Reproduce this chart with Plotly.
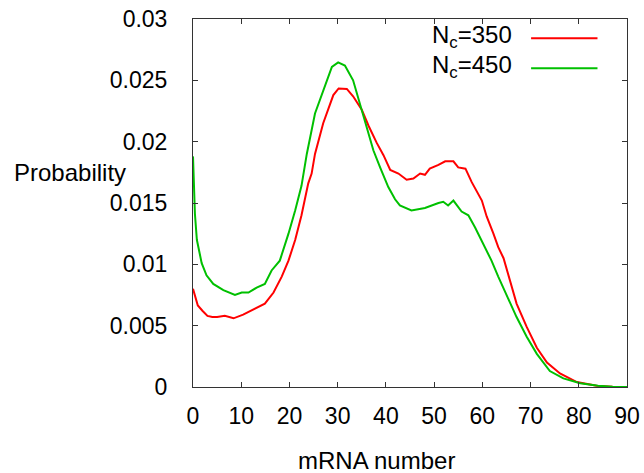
import plotly.graph_objects as go

# Nc = 350 (red)
x350 = [0, 0.5, 1, 2, 3, 4, 5, 6.6, 8.4, 10.4, 12.5, 14.9, 16.7, 18.4, 19.8, 21.2, 22.5, 23.9,
        24.6, 25.3, 27.0, 29.1, 30.2, 31.9, 33.2, 35.0, 36.4, 38.1, 39.5, 40.9, 42.6, 44.3,
        45.7, 47.1, 48.1, 49.1, 50.9, 52.3, 54.0, 55.0, 56.5, 57.8, 59.9, 60.9, 62.3, 63.3,
        64.4, 65.7, 67.1, 69.2, 71.3, 73.4, 76.1, 79.6, 83.7, 87, 90]
y350 = [0.0080, 0.0072, 0.00665, 0.0062, 0.0058, 0.0057, 0.0057, 0.0058, 0.0056, 0.0059, 0.0063,
        0.0068, 0.0077, 0.0090, 0.0103, 0.0120, 0.0140, 0.0166,
        0.0174, 0.0190, 0.0215, 0.0238, 0.02434, 0.0243, 0.0237, 0.0226, 0.0213, 0.0199, 0.0189,
        0.0177, 0.0174, 0.0169, 0.0170, 0.0174, 0.0173, 0.0178, 0.0181, 0.0184, 0.0184, 0.0179,
        0.0178, 0.0167, 0.0152, 0.0139, 0.0125, 0.0114, 0.0105, 0.0087, 0.0068, 0.0049, 0.0032,
        0.0020, 0.0011, 0.0004, 0.0001, 0.00003, 0.0]

# Nc = 450 (green)
x450 = [0, 0.4, 0.8, 1.8, 2.8, 4.2, 6.3, 8.7, 10.1, 11.5, 13.2, 14.9, 16.3, 18.0, 19.8, 21.2,
        22.5, 23.6, 25.3, 27.0, 28.8, 30.1, 31.5, 33.2, 34.6, 36.0, 37.4, 38.8, 40.5, 41.9,
        42.9, 45.3, 48.1, 50.9, 51.9, 52.9, 54.0, 55.7, 57.1, 58.5, 60.2, 61.9, 63.3, 65.1,
        67.1, 69.2, 71.3, 74.0, 76.8, 80.3, 84, 87, 90]
y450 = [0.0188, 0.0141, 0.0120, 0.0101, 0.0091, 0.0084, 0.0079, 0.0075, 0.0077, 0.0077, 0.0081,
        0.0084, 0.0095, 0.0103, 0.0125, 0.0144, 0.0164, 0.0190, 0.0223, 0.0242, 0.0261, 0.02646,
        0.0262, 0.0250, 0.0231, 0.0212, 0.0193, 0.0179, 0.0163, 0.0153, 0.0148, 0.0144, 0.0146,
        0.0150, 0.0151, 0.0148, 0.0152, 0.0143, 0.0140, 0.0130, 0.0117, 0.0103, 0.0090, 0.0075,
        0.0057, 0.0041, 0.0027, 0.0013, 0.0007, 0.0003, 0.0001, 0.00003, 0.0]

xticks = [0, 10, 20, 30, 40, 50, 60, 70, 80, 90]
yticks = [0, 0.005, 0.01, 0.015, 0.02, 0.025, 0.03]
ytick_labels = ["0", "0.005", "0.01", "0.015", "0.02", "0.025", "0.03"]

FONT = "Liberation Sans, Arial, sans-serif"

fig = go.Figure()
fig.add_trace(go.Scatter(x=x350, y=y350, mode="lines", line=dict(color="#ff0000", width=2),
                         name="N<sub>c</sub>=350", showlegend=False))
fig.add_trace(go.Scatter(x=x450, y=y450, mode="lines", line=dict(color="#00c000", width=2),
                         name="N<sub>c</sub>=450", showlegend=False))

axis_common = dict(showline=True, linecolor="#333333", linewidth=1, mirror="ticks",
                   ticks="inside", ticklen=5, tickcolor="#333333", showgrid=False,
                   zeroline=False, automargin=False,
                   tickfont=dict(family=FONT, size=23, color="#000000"))

fig.update_xaxes(range=[0, 90], tickvals=xticks, ticklabelstandoff=8, **axis_common)
fig.update_yaxes(range=[0, 0.03], tickvals=yticks, ticktext=ytick_labels,
                 ticklabelstandoff=20, **axis_common)

# Legend (gnuplot style: text then line sample)
legend_items = [("N<sub>c</sub>=350", "#ff0000", 0.952), ("N<sub>c</sub>=450", "#00c000", 0.870)]
for text, color, yp in legend_items:
    fig.add_annotation(xref="paper", yref="paper", x=0.739, y=yp, text=text, showarrow=False,
                       xanchor="right", yanchor="middle",
                       font=dict(family=FONT, size=24, color="#000000"))
    fig.add_shape(type="line", xref="paper", yref="paper", x0=0.779, x1=0.932, y0=yp - 0.004,
                  y1=yp - 0.004, line=dict(color=color, width=2))

fig.add_annotation(xref="paper", yref="paper", x=(70 - 193) / 434, y=0.584, text="Probability",
                   showarrow=False, xanchor="center", yanchor="middle",
                   font=dict(family=FONT, size=24, color="#000000"))
fig.add_annotation(xref="paper", yref="paper", x=(376 - 193) / 434, y=-0.2, text="mRNA number",
                   showarrow=False, xanchor="center", yanchor="middle",
                   font=dict(family=FONT, size=24, color="#000000"))

fig.update_layout(width=644, height=473, margin=dict(l=193, r=17, t=19, b=86),
                  paper_bgcolor="white", plot_bgcolor="white", showlegend=False)

fig.write_html("out.html")
